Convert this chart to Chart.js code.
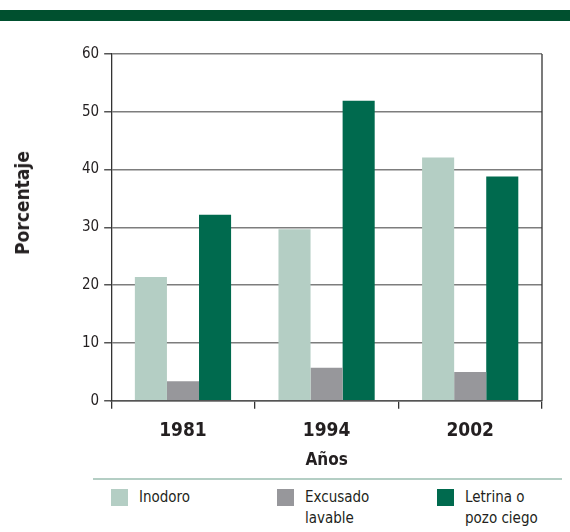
<!DOCTYPE html>
<html>
<head>
<meta charset="utf-8">
<script src="https://cdn.jsdelivr.net/npm/chart.js@4"></script>
<style>
  body { margin: 0; background: #fff; font-family: "DejaVu Sans Condensed", "Liberation Sans Narrow", sans-serif; }
  #wrap { position: relative; width: 570px; height: 532px; }
  #band { position: absolute; left: 0; top: 10px; width: 570px; height: 11px; background: #00502f; }
  #chartBox { position: absolute; left: 0; top: 0; width: 570px; height: 471px; }
  #ytitle { position: absolute; left: 22px; top: 203px; transform: translate(-50%, -50%) rotate(-90deg);
            font-size: 19px; font-weight: bold; color: #231f20; white-space: nowrap; }
  #sep { position: absolute; left: 93px; top: 478px; width: 469px; height: 2px; background: #b4cec4; }
  #legend { position: absolute; left: 0; top: 489px; width: 570px; height: 43px; }
  .item { position: absolute; top: 0; display: flex; }
  .box { width: 17px; height: 17px; margin-right: 11px; }
  .txt { font-size: 15px; line-height: 21px; color: #231f20; margin-top: -2px; }
</style>
</head>
<body>
<div id="wrap">
  <div id="band"></div>
  <div id="chartBox"><canvas id="chart"></canvas></div>
  <div id="ytitle">Porcentaje</div>
  <div id="sep"></div>
  <div id="legend"></div>
</div>
<script>
// Categorías y valores (porcentaje de hogares)
const years = ['1981', '1994', '2002'];
const inodoro = [21.4, 29.7, 42.1];
const excusado = [3.4, 5.7, 5.0];
const letrina = [32.2, 51.9, 38.8];
const yTicks = [0, 10, 20, 30, 40, 50, 60];

const seriesNames = [['Inodoro'], ['Excusado', 'lavable'], ['Letrina o', 'pozo ciego']];
const seriesColors = ['#b4cec4', '#97979b', '#006a4e'];
const legendLeft = [111, 277, 437];

const font = '"DejaVu Sans Condensed", "Liberation Sans Narrow", sans-serif';

// borde derecho del área de trazado
const rightBorder = {
    id: 'rightBorder',
    afterDraw(chart) {
        const a = chart.chartArea;
        const ctx = chart.ctx;
        ctx.save();
        ctx.strokeStyle = '#333';
        ctx.lineWidth = 1.3;
        ctx.beginPath();
        ctx.moveTo(a.right, a.top);
        ctx.lineTo(a.right, a.bottom);
        ctx.stroke();
        ctx.restore();
    }
};

const data = {
    labels: years,
    datasets: [inodoro, excusado, letrina].map((d, i) => ({
        label: seriesNames[i].join(' '),
        data: d,
        backgroundColor: seriesColors[i],
        borderWidth: 0,
        barPercentage: 1,
        categoryPercentage: 0.67
    }))
};

new Chart(document.getElementById('chart'), {
    type: 'bar',
    data: data,
    options: {
        responsive: true,
        maintainAspectRatio: false,
        animation: false,
        layout: { padding: { left: 77, right: 28, top: 54, bottom: 0 } },
        plugins: {
            legend: { display: false },
            tooltip: { enabled: false }
        },
        scales: {
            x: {
                grid: {
                    offset: true,
                    drawOnChartArea: false,
                    drawTicks: true,
                    tickLength: 8,
                    color: '#333',
                    lineWidth: 1.3
                },
                border: { color: '#555', width: 1.5 },
                ticks: {
                    color: '#231f20',
                    padding: 11,
                    font: { family: font, size: 19, weight: 'bold' }
                },
                title: {
                    display: true,
                    text: 'Años',
                    color: '#231f20',
                    padding: { top: -3, bottom: 0 },
                    font: { family: font, size: 17, weight: 'bold' }
                }
            },
            y: {
                min: 0,
                max: 60,
                afterBuildTicks(axis) { axis.ticks = yTicks.map(v => ({ value: v })); },
                grid: {
                    color: '#7d7d7d',
                    lineWidth: 1.5,
                    tickLength: 7,
                    tickColor: '#555'
                },
                border: { color: '#333', width: 1.3 },
                ticks: {
                    color: '#231f20',
                    padding: 5,
                    font: { family: font, size: 15 }
                }
            }
        }
    },
    plugins: [rightBorder]
});

// Leyenda
const legendEl = document.getElementById('legend');
seriesNames.forEach((name, i) => {
    const item = document.createElement('div');
    item.className = 'item';
    item.style.left = legendLeft[i] + 'px';
    const box = document.createElement('div');
    box.className = 'box';
    box.style.background = seriesColors[i];
    const txt = document.createElement('div');
    txt.className = 'txt';
    txt.innerHTML = name.join('<br>');
    item.appendChild(box);
    item.appendChild(txt);
    legendEl.appendChild(item);
});
</script>
</body>
</html>
